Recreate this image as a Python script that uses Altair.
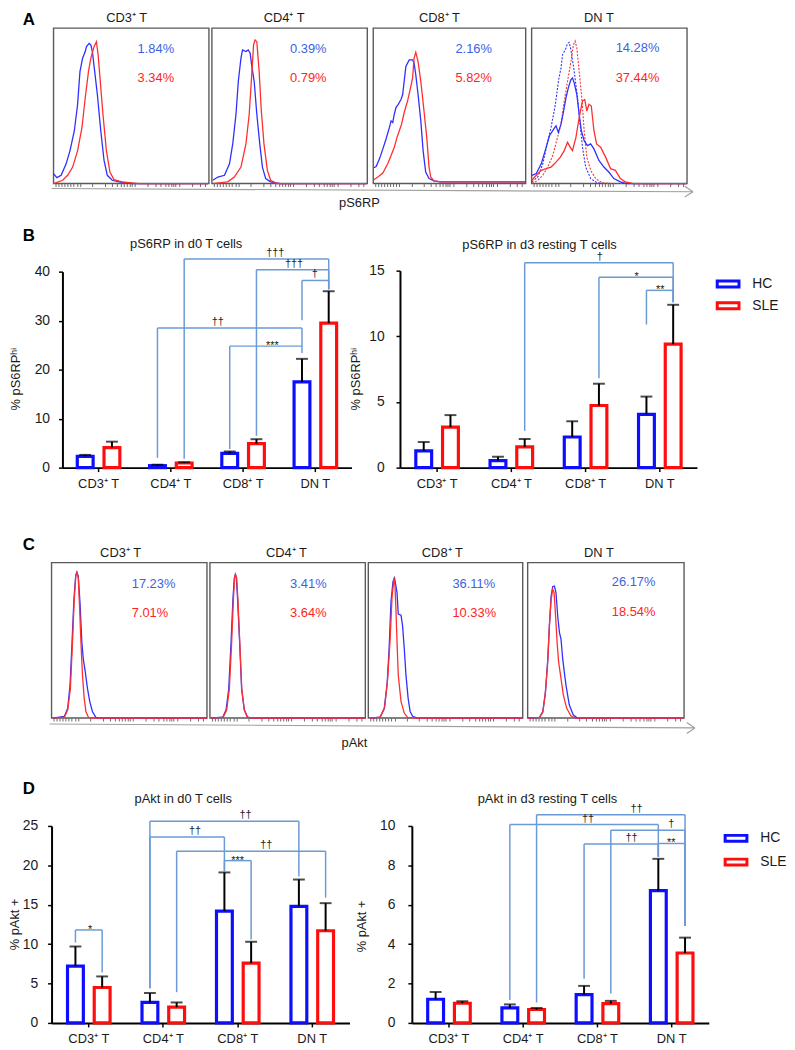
import altair as alt
import pandas as pd

W, H = 787, 1042
FONT = "Liberation Sans, Arial, Helvetica, sans-serif"
TXT = "#1a1a1a"
BAR_BLUE, BAR_RED = "#0d0dff", "#ff0d0d"
LINE_BLUE, LINE_RED = "#2f2fff", "#ff2f2f"
PCT_BLUE, PCT_RED = "#3b62e6", "#ff2424"
BRK = "#6c9ad4"
FRAME = "#5a5a5a"

categories = ["CD3⁺ T", "CD4⁺ T", "CD8⁺ T", "DN T"]
groups = ["HC", "SLE"]

# ---------------- Panel A : pS6RP histograms (x: % of axis, y: % of max) ----------------
a_cd3_hc_x = [0, 2.1, 4.9, 8.1, 10.6, 13.4, 15.5, 17, 18.7, 20.4, 21.2, 22.9, 24, 25, 26.5, 28.2, 30.4, 32.5, 34.6, 37.8, 42, 50.5, 99.4]
a_cd3_hc_y = [6.4, 3.8, 5.3, 12.7, 21.2, 34, 51, 72, 80.7, 84.9, 88.1, 90.2, 89.2, 84.9, 72, 57.3, 34, 14.9, 5.3, 2.1, 1.1, 0, 0]
a_cd3_sle_x = [0, 5.9, 9.1, 12.3, 15.5, 18.3, 20.4, 22.5, 24, 26.1, 27.6, 28.7, 29.9, 31.8, 34, 36.3, 38.9, 44.1, 54.8, 99.4]
a_cd3_sle_y = [0, 2.1, 5.3, 10.6, 21.2, 36.1, 55.2, 72.2, 80.7, 88.1, 91.3, 82.8, 68, 44.6, 21.2, 7.4, 2.5, 1.1, 0, 0]

a_cd4_hc_x = [0.6, 3.8, 8.1, 11.3, 13.4, 15.5, 17, 18.7, 19.7, 21.9, 23.4, 24.6, 25.7, 27.2, 28.9, 30.8, 32.5, 34.6, 37.8, 44.1, 99.4]
a_cd4_hc_y = [2.1, 4.2, 5.3, 12.7, 25.5, 44.6, 65.8, 80.7, 86, 84.9, 86, 83.9, 75.4, 65.8, 44.6, 25.5, 10.6, 3.2, 1.1, 0, 0]
a_cd4_sle_x = [0.6, 10.2, 14.4, 18.7, 21.9, 24, 25.5, 26.8, 27.8, 28.9, 30.4, 31.8, 33.5, 35.7, 37.8, 42, 99.4]
a_cd4_sle_y = [0, 1.1, 4.2, 10.6, 25.5, 44.6, 68, 89.2, 92.4, 91.3, 72.2, 46.7, 25.5, 8.5, 2.1, 0, 0]

a_cd8_hc_x = [0.4, 1.9, 4.1, 6.3, 8.4, 10.6, 11.7, 12.8, 13.8, 14.9, 16.4, 18.2, 19.3, 20.3, 21.4, 23.6, 25.8, 26.8, 27.9, 29.4, 31.2, 32.7, 34.4, 36.6, 39.8, 44.2, 99.8]
a_cd8_hc_y = [10.2, 11, 15.9, 22.3, 28.7, 36.1, 40.3, 39.3, 44.6, 48.9, 51, 54.1, 57.3, 65.8, 75.4, 79.6, 79.6, 77.5, 70, 57.3, 40.3, 21.2, 7.4, 3.2, 1.7, 1.1, 1.1]
a_cd8_sle_x = [0.4, 3.0, 6.3, 9.5, 11.7, 13.8, 15.6, 17.1, 18.6, 20.3, 22.5, 24.2, 25.8, 26.8, 27.9, 29.4, 31.2, 33.3, 35.1, 36.6, 37.7, 39.8, 44.2, 99.8]
a_cd8_sle_y = [2.5, 4.2, 6.8, 12.7, 18, 23.4, 29.7, 34, 38.2, 45.7, 53.1, 60.5, 68, 80.7, 84.5, 78.5, 65.8, 46.7, 29.7, 10.6, 4.2, 1.7, 1.1, 1.1]

a_dn_hc_x = [0.2, 3.0, 6.2, 9.4, 11.5, 14.2, 15.7, 17.2, 18.9, 20.6, 22.1, 23.6, 25.3, 26.3, 27.4, 29.1, 30.6, 32, 33.8, 35.9, 38, 40.1, 43.3, 46.5, 49.7, 52.9, 57.1, 61.3, 99.6]
a_dn_hc_y = [5.3, 6.4, 12.7, 23.4, 30.8, 35, 37.1, 32.9, 38.2, 46.7, 55.2, 61.6, 66.9, 68, 64.8, 57.3, 44.6, 34, 27.6, 24.4, 25.5, 22.3, 14.9, 10.6, 7.4, 3.2, 1.1, 0, 0]
a_dn_sle_x = [0.2, 3.0, 6.2, 9.4, 12.5, 15.7, 18.5, 21, 23.1, 24.8, 26.3, 28.5, 30.6, 32.7, 34.2, 35.5, 36.9, 38.4, 40.1, 41.8, 44.4, 47.6, 50.8, 53.9, 57.1, 60.3, 65.6, 99.6]
a_dn_sle_y = [2.1, 5.3, 8.5, 9.6, 10.6, 13.8, 17, 21.2, 26.5, 23.4, 21.2, 29.7, 42.5, 53.1, 54.1, 46.7, 51, 49.9, 34, 25.5, 23.4, 17, 9.6, 8.5, 3.2, 1.1, 0, 0]
a_dn_hc_dot_x = [0.2, 4.0, 7.2, 10, 12.5, 15.3, 17.4, 18.9, 19.9, 22.1, 23.1, 24.2, 25.3, 27.4, 29.5, 31.2, 32.7, 34.8, 38, 42.2, 48.6, 99.6]
a_dn_hc_dot_y = [1.1, 4.2, 12.7, 25.5, 36.1, 51, 66.9, 74.3, 82.8, 87.1, 90.2, 90.9, 86, 72.2, 55.2, 38.2, 23.4, 10.6, 3.2, 0.4, 0, 0]
a_dn_sle_dot_x = [0.2, 4.0, 7.2, 10.4, 13.6, 16.4, 18.9, 21, 23.1, 25.3, 26.9, 28, 29.1, 30.6, 32.3, 33.8, 35.5, 38, 41.2, 45.4, 52.9, 99.6]
a_dn_sle_dot_y = [0, 2.1, 5.3, 10.6, 18, 28.7, 38.2, 53.1, 65.8, 78.5, 89.2, 91.7, 87.1, 72.2, 55.2, 34, 17, 8.5, 3.2, 0.4, 0, 0]

a_pct_hc = ["1.84%", "0.39%", "2.16%", "14.28%"]
a_pct_sle = ["3.34%", "0.79%", "5.82%", "37.44%"]

# ---------------- Panel C : pAkt histograms ----------------
c_cd3_hc_x = [0.8, 8.3, 10.4, 11.9, 13.2, 14.4, 15.5, 16.3, 17.2, 18.3, 19.5, 20.4, 21.7, 23.1, 24.6, 26.3, 28.5, 30.6, 100]
c_cd3_hc_y = [0, 1.1, 6.4, 21.2, 48.9, 76.4, 91.3, 93.8, 91.3, 74.3, 48.9, 38.2, 29.7, 19.1, 10.6, 4.2, 0.4, 0, 0]
c_cd3_sle_x = [0.8, 8.3, 10.4, 12.1, 13.4, 14.6, 15.7, 16.3, 17.2, 18, 18.9, 19.9, 21, 22.1, 23.8, 26.3, 100]
c_cd3_sle_y = [0, 0.6, 5.3, 18.7, 46.7, 76.4, 92.4, 93.8, 90.2, 72.2, 48.9, 27.6, 12.7, 4.2, 0.4, 0, 0]

c_cd4_hc_x = [0.8, 8.3, 10.4, 12.1, 13.6, 14.8, 15.7, 16.3, 17, 17.8, 19.1, 20.4, 22.1, 24.2, 27.4, 100]
c_cd4_hc_y = [0, 0.6, 5.3, 18.7, 48.9, 76.4, 90.2, 92.4, 90.2, 76.4, 48.9, 18.7, 5.3, 0.6, 0, 0]
c_cd4_sle_x = [1.1, 8.6, 10.8, 12.5, 14.0, 15.1, 15.9, 16.5, 17.2, 18.0, 19.2, 20.5, 22.1, 24.0, 27.4, 100]
c_cd4_sle_y = [0, 0.6, 5.3, 18.7, 48.9, 76.4, 90.2, 92.4, 90.2, 76.4, 48.9, 18.7, 5.3, 0.6, 0, 0]

c_cd8_hc_x = [1.3, 7.7, 10.3, 12.2, 13.5, 14.7, 16, 17, 18.6, 19.4, 21.2, 22.2, 23.3, 24.4, 25.8, 27.1, 28.7, 31.9, 100]
c_cd8_hc_y = [0, 0.6, 6, 22, 45, 75, 88, 90.2, 80.7, 66.9, 66.2, 59.4, 44.6, 27.6, 12.7, 4.2, 1.1, 0, 0]
c_cd8_sle_x = [1.3, 7.7, 10.6, 12.5, 14.1, 15.4, 16.7, 17.3, 17.9, 18.6, 19.4, 21.2, 23.3, 25.4, 30.8, 100]
c_cd8_sle_y = [0, 0.6, 7, 25, 50, 78, 90.2, 84.9, 70, 48.9, 27.6, 10.6, 3.2, 0.4, 0, 0]

c_dn_hc_x = [0.2, 7.6, 9.7, 11.4, 12.9, 13.9, 15, 16, 17.1, 18.1, 19.2, 20.3, 21.3, 22.4, 23.4, 24.5, 26.6, 29.1, 31.8, 99.4]
c_dn_hc_y = [0, 0.4, 4.2, 17, 38.2, 59.4, 78.5, 84.5, 84.9, 80.7, 65.8, 55.2, 51, 38.2, 29.7, 21.2, 8.5, 2.1, 0, 0]
c_dn_sle_x = [0.2, 7.6, 9.7, 11.2, 12.7, 13.9, 15, 16, 16.9, 17.7, 18.8, 19.8, 21.3, 22.8, 24.9, 27.7, 30.8, 99.4]
c_dn_sle_y = [0, 0.4, 3.8, 14.9, 34, 59.4, 76.4, 82.8, 80.7, 68, 48.9, 36.1, 25.5, 14.9, 6.4, 1.3, 0, 0]

c_pct_hc = ["17.23%", "3.41%", "36.11%", "26.17%"]
c_pct_sle = ["7.01%", "3.64%", "10.33%", "18.54%"]

# flow-cytometry style bottom tick positions (% of axis)
hist_ticks = [1, 3, 5, 7, 9, 11, 13, 15, 17, 25, 33, 37.5, 41, 43.5, 45.5, 47.3, 48.8, 50.1,
              52.5, 60.8, 65.6, 69, 71.7, 73.9, 75.7, 77.3, 78.6, 81, 89.3, 94.2, 97.6]

# ---------------- Panel B : % pS6RP hi ----------------
b0_hc = [2.3, 0.4, 2.9, 17.5]
b0_hc_sem = [0.3, 0.2, 0.4, 4.7]
b0_sle = [4.1, 0.95, 4.9, 29.5]
b0_sle_sem = [1.2, 0.15, 0.9, 6.5]
b3_hc = [1.28, 0.53, 2.33, 4.06]
b3_hc_sem = [0.67, 0.30, 1.20, 1.35]
b3_sle = [3.08, 1.58, 4.73, 9.40]
b3_sle_sem = [0.92, 0.60, 1.66, 3.0]

# ---------------- Panel D : % pAkt + ----------------
d0_hc = [7.2, 2.6, 14.2, 14.8]
d0_hc_sem = [2.5, 1.2, 4.9, 3.4]
d0_sle = [4.5, 2.0, 7.6, 11.7]
d0_sle_sem = [1.4, 0.6, 2.7, 3.5]
d3_hc = [1.2, 0.76, 1.44, 6.72]
d3_hc_sem = [0.37, 0.18, 0.44, 1.61]
d3_sle = [1.0, 0.68, 0.98, 3.55]
d3_sle_sem = [0.10, 0.08, 0.14, 0.78]

# significance brackets: (cat1, grp1, cat2, grp2, line height, drop1 end, drop2 end, label, label x in category units)
b0_brackets = [
    ("CD4⁺ T", "SLE", "DN T", "SLE", 42.6, 1.8, 36.4, "†††", 2.945),
    ("CD8⁺ T", "SLE", "DN T", "SLE", 40.4, 6.5, 36.4, "†††", 3.205),
    ("DN T", "HC", "DN T", "SLE", 38.2, 30.1, 36.4, "†", 3.493),
    ("CD4⁺ T", "HC", "DN T", "HC", 28.5, 2.0, 24.8, "††", 2.151),
    ("CD8⁺ T", "HC", "DN T", "HC", 24.8, 3.8, 23.4, "***", 2.904),
]
b3_brackets = [
    ("CD4⁺ T", "SLE", "DN T", "SLE", 15.6, 2.8, 12.6, "†", 2.693),
    ("CD8⁺ T", "SLE", "DN T", "SLE", 14.5, 6.8, 12.6, "*", 3.187),
    ("DN T", "HC", "DN T", "SLE", 13.5, 10.9, 12.6, "**", 3.507),
]
d0_brackets = [
    ("CD3⁺ T", "HC", "CD3⁺ T", "SLE", 11.8, 10.2, 6.4, "*", 0.518),
    ("CD4⁺ T", "HC", "DN T", "HC", 25.6, 4.4, 18.6, "††", 2.605),
    ("CD4⁺ T", "HC", "CD8⁺ T", "HC", 23.6, 4.4, 19.2, "††", 1.927),
    ("CD4⁺ T", "SLE", "DN T", "SLE", 21.8, 3.9, 15.9, "††", 2.884),
    ("CD8⁺ T", "HC", "CD8⁺ T", "SLE", 20.6, 19.2, 10.6, "***", 2.498),
]
d3_brackets = [
    ("CD4⁺ T", "SLE", "DN T", "SLE", 10.57, 1.04, 4.92, "††", 3.027),
    ("CD4⁺ T", "HC", "DN T", "HC", 10.07, 1.16, 8.44, "††", 2.373),
    ("CD8⁺ T", "SLE", "DN T", "SLE", 9.78, 1.49, 4.92, "†", 3.493),
    ("CD8⁺ T", "HC", "DN T", "HC", 9.08, 2.24, 8.44, "††", 2.96),
    ("DN T", "HC", "DN T", "SLE", 9.11, 8.44, 4.92, "**", 3.493),
]

ONE = pd.DataFrame({"k": [0]})


def lin(domain, rng):
    return alt.Scale(domain=domain, range=rng, nice=False, zero=False)


def label(s, x, y, size=13, bold=False, align="center", color=TXT):
    return alt.Chart(ONE).mark_text(text=s, font=FONT, fontSize=size,
                                    fontWeight="bold" if bold else "normal",
                                    align=align, baseline="middle", color=color).encode(
        x=alt.value(x), y=alt.value(y))


def seg(x1, y1, x2, y2, color="#a0a0a0", width=1.2):
    return alt.Chart(ONE).mark_rule(color=color, strokeWidth=width).encode(
        x=alt.value(x1), y=alt.value(y1), x2=alt.value(x2), y2=alt.value(y2))


def hist_panel(curves, pct_hc, pct_sle, text_x, text_y, title, title_x, xr, yr):
    xs = lin([0, 100], xr)
    ys = lin([0, 100], yr)
    units = []
    fr = pd.DataFrame({"x0": [0], "x1": [100], "y0": [0], "y1": [100]})
    units.append(alt.Chart(fr).mark_rect(fillOpacity=0, stroke=FRAME, strokeWidth=1.4).encode(
        x=alt.X("x0:Q", scale=xs, axis=alt.Axis(orient="bottom", offset=yr[0] - H, values=hist_ticks,
                                                labels=False, domain=False, grid=False, ticks=True,
                                                tickSize=3, tickColor="#444", tickWidth=0.8, title=None)),
        x2="x1:Q",
        y=alt.Y("y0:Q", scale=ys, axis=None),
        y2="y1:Q"))
    for cx, cy, color, dashed in curves:
        kw = dict(color=color, strokeWidth=1.3 if not dashed else 1.1, interpolate="linear")
        if dashed:
            kw["strokeDash"] = [2, 1.5]
        units.append(alt.Chart(pd.DataFrame({"x": cx, "y": cy})).mark_line(**kw).encode(
            x=alt.X("x:Q", scale=xs, axis=None), y=alt.Y("y:Q", scale=ys, axis=None)))
    tdf = pd.DataFrame({"x": [text_x, text_x], "y": text_y, "t": [pct_hc, pct_sle],
                        "c": [PCT_BLUE, PCT_RED]})
    units.append(alt.Chart(tdf).mark_text(align="left", baseline="middle", font=FONT, fontSize=13).encode(
        x=alt.X("x:Q", scale=xs, axis=None), y=alt.Y("y:Q", scale=ys, axis=None),
        text="t:N", color=alt.Color("c:N", scale=None, legend=None)))
    ttl = pd.DataFrame({"x": [title_x], "y": [106.4], "t": [title]})
    units.append(alt.Chart(ttl).mark_text(align="center", baseline="middle", font=FONT, fontSize=13, color=TXT).encode(
        x=alt.X("x:Q", scale=xs, axis=None), y=alt.Y("y:Q", scale=ys, axis=None), text="t:N"))
    return units


def bar_panel(hc, hc_sem, sle, sle_sem, ymax, yvals, xr, yr, ytitle, ytx, yty, lab_pad,
              title, tx, ty, brackets, legend=None):
    n = len(categories)
    df = pd.DataFrame({"cat": categories + categories, "grp": ["HC"] * n + ["SLE"] * n,
                       "val": hc + sle, "sem": hc_sem + sle_sem})
    df["top"] = df["val"] + df["sem"]
    step = (xr[1] - xr[0]) / n
    d = 27.0
    pi = 1 - 16.0 / d
    po = (step / d - 2 + pi) / 2
    xs = alt.Scale(domain=categories, range=xr, paddingInner=0, paddingOuter=0)
    xo = alt.XOffset("grp:N", scale=alt.Scale(domain=groups, paddingInner=pi, paddingOuter=po))
    ys = lin([0, ymax], yr)
    xaxis = alt.Axis(orient="bottom", offset=yr[0] - H, title=None, labelAngle=0, domainColor="black",
                     domainWidth=2, tickColor="black", tickWidth=1.5, tickSize=4, labelFont=FONT,
                     labelFontSize=13, labelColor=TXT, labelPadding=6)
    yaxis = alt.Axis(orient="left", offset=-xr[0], values=yvals, grid=False, domainColor="black",
                     domainWidth=2, tickColor="black", tickWidth=1.5, tickSize=4, labelFont=FONT,
                     labelFontSize=14, labelColor=TXT, labelPadding=lab_pad, title=ytitle,
                     titleFont=FONT, titleFontSize=13, titleFontWeight="normal", titleColor=TXT,
                     titleX=ytx, titleY=yty, titleAngle=270, titleAlign="center", titleBaseline="middle")
    units = []
    units.append(alt.Chart(df).mark_bar(fill="white", strokeWidth=3.2).encode(
        x=alt.X("cat:N", scale=xs, axis=xaxis), xOffset=xo,
        y=alt.Y("val:Q", scale=ys, axis=yaxis),
        stroke=alt.Stroke("grp:N", scale=alt.Scale(domain=groups, range=[BAR_BLUE, BAR_RED]), legend=legend)))
    units.append(alt.Chart(df).mark_rule(color="black", strokeWidth=2).encode(
        x=alt.X("cat:N", scale=xs, axis=None), xOffset=xo,
        y=alt.Y("val:Q", scale=ys, axis=None), y2=alt.Y2("top")))
    units.append(alt.Chart(df).mark_tick(color="black", thickness=2, size=12).encode(
        x=alt.X("cat:N", scale=xs, axis=None), xOffset=xo,
        y=alt.Y("top:Q", scale=ys, axis=None)))
    off = 13.5 / step
    segs, labs = [], []
    for c1, g1, c2, g2, yl, yd1, yd2, lab, lx in brackets:
        x1 = categories.index(c1) + 0.5 + (off if g1 == "SLE" else -off)
        x2 = categories.index(c2) + 0.5 + (off if g2 == "SLE" else -off)
        segs += [dict(x=x1, x2=x2, y=yl, y2=yl), dict(x=x1, x2=x1, y=yd1, y2=yl),
                 dict(x=x2, x2=x2, y=yd2, y2=yl)]
        labs.append(dict(x=lx, y=yl, t=lab, star="*" in lab))
    bx = lin([0, n], xr)
    units.append(alt.Chart(pd.DataFrame(segs)).mark_rule(color=BRK, strokeWidth=1.5).encode(
        x=alt.X("x:Q", scale=bx, axis=None), x2="x2:Q",
        y=alt.Y("y:Q", scale=ys, axis=None), y2="y2:Q"))
    ldf = pd.DataFrame(labs)
    for star, dy in ((False, -3), (True, 3)):
        sub = ldf[ldf["star"] == star]
        if len(sub):
            units.append(alt.Chart(sub[["x", "y", "t"]]).mark_text(
                font=FONT, fontSize=11, fill="#222222", baseline="alphabetic", dy=dy).encode(
                x=alt.X("x:Q", scale=bx, axis=None), y=alt.Y("y:Q", scale=ys, axis=None), text="t:N"))
    units.append(label(title, tx, ty))
    return units


def make_legend(lx, ly, rowpad):
    return alt.Legend(orient="none", legendX=lx, legendY=ly, title=None, padding=0,
                      symbolType="M-1,-0.27H1V0.27H-1Z", symbolSize=484, symbolStrokeWidth=3,
                      symbolFillColor="white", labelFont=FONT, labelFontSize=14, labelColor=TXT,
                      labelOffset=12, rowPadding=rowpad)


units = []

# ---- A ----
ya = [172, 15]
units += hist_panel([(a_cd3_hc_x, a_cd3_hc_y, LINE_BLUE, False), (a_cd3_sle_x, a_cd3_sle_y, LINE_RED, False)],
                    a_pct_hc[0], a_pct_sle[0], 54.1, [86.6, 68.2], categories[0], 47.1, [46, 203], ya)
units += hist_panel([(a_cd4_hc_x, a_cd4_hc_y, LINE_BLUE, False), (a_cd4_sle_x, a_cd4_sle_y, LINE_RED, False)],
                    a_pct_hc[1], a_pct_sle[1], 50.3, [86.6, 68.2], categories[1], 46.5, [206, 363], ya)
units += hist_panel([(a_cd8_hc_x, a_cd8_hc_y, LINE_BLUE, False), (a_cd8_sle_x, a_cd8_sle_y, LINE_RED, False)],
                    a_pct_hc[2], a_pct_sle[2], 53.9, [86.6, 68.2], categories[2], 43.4, [369, 523], ya)
units += hist_panel([(a_dn_hc_dot_x, a_dn_hc_dot_y, LINE_BLUE, True), (a_dn_sle_dot_x, a_dn_sle_dot_y, LINE_RED, True),
                     (a_dn_hc_x, a_dn_hc_y, LINE_BLUE, False), (a_dn_sle_x, a_dn_sle_y, LINE_RED, False)],
                    a_pct_hc[3], a_pct_sle[3], 54.1, [87.3, 68.2], categories[3], 43.3, [529, 686], ya)
units += [seg(44, 177, 692, 180.3), seg(683.7, 174.7, 692, 180.3), seg(692, 180.3, 683.7, 185.6),
          label("pS6RP", 355, 192)]

# ---- C ----
yc = [712, 555]
units += hist_panel([(c_cd3_hc_x, c_cd3_hc_y, LINE_BLUE, False), (c_cd3_sle_x, c_cd3_sle_y, LINE_RED, False)],
                    c_pct_hc[0], c_pct_sle[0], 51.6, [86.0, 67.5], categories[0], 44.4, [44, 201], yc)
units += hist_panel([(c_cd4_hc_x, c_cd4_hc_y, LINE_BLUE, False), (c_cd4_sle_x, c_cd4_sle_y, LINE_RED, False)],
                    c_pct_hc[1], c_pct_sle[1], 51.6, [86.0, 67.5], categories[1], 49.2, [204, 361], yc)
units += hist_panel([(c_cd8_hc_x, c_cd8_hc_y, LINE_BLUE, False), (c_cd8_sle_x, c_cd8_sle_y, LINE_RED, False)],
                    c_pct_hc[2], c_pct_sle[2], 54.5, [86.0, 67.5], categories[2], 47.9, [364, 520], yc)
units += hist_panel([(c_dn_hc_x, c_dn_hc_y, LINE_BLUE, False), (c_dn_sle_x, c_dn_sle_y, LINE_RED, False)],
                    c_pct_hc[3], c_pct_sle[3], 53.8, [87.3, 68.2], categories[3], 45.6, [525, 683], yc)
units += [seg(42, 718, 694, 722), seg(685.7, 716.4, 694, 722), seg(694, 722, 685.7, 727.6),
          label("pAkt", 350, 737)]

# ---- B ----
units += bar_panel(b0_hc, b0_hc_sem, b0_sle, b0_sle_sem, 40, [0, 10, 20, 30, 40], [55, 347], [459, 261],
                   "% pS6RPʰⁱ", -47, 369, 9, "pS6RP in d0 T cells", 180, 233, b0_brackets)
units += bar_panel(b3_hc, b3_hc_sem, b3_sle, b3_sle_sem, 15, [0, 5, 10, 15], [396, 696], [459, 260],
                   "% pS6RPʰⁱ", -45, 369, 12, "pS6RP in d3 resting T cells", 537, 234, b3_brackets,
                   legend=make_legend(715, 261, 0))

# ---- D ----
units += bar_panel(d0_hc, d0_hc_sem, d0_sle, d0_sle_sem, 25, [0, 5, 10, 15, 20, 25], [44, 345], [1020, 821],
                   "% pAkt +", -37, 920, 10, "pAkt in d0 T cells", 177, 794, d0_brackets)
units += bar_panel(d3_hc, d3_hc_sem, d3_sle, d3_sle_sem, 10, [0, 2, 4, 6, 8, 10], [408, 708], [1020, 821],
                   "% pAkt +", -51, 922, 13, "pAkt in d3 resting T cells", 545, 794, d3_brackets,
                   legend=make_legend(723, 821, 2))

# ---- section letters ----
units += [label("A", 21, 7, size=17, bold=True, color="black"),
          label("B", 21, 225, size=17, bold=True, color="black"),
          label("C", 21, 537, size=17, bold=True, color="black"),
          label("D", 21, 784, size=17, bold=True, color="black")]

chart = alt.layer(*units).resolve_scale(
    x="independent", y="independent", xOffset="independent", stroke="independent"
).resolve_axis(x="independent", y="independent").resolve_legend(stroke="independent").properties(
    width=W, height=H, padding=0, autosize=alt.AutoSizeParams(type="none")
).configure_view(strokeWidth=0)

chart.save("out.html", embed_options={"renderer": "svg", "actions": False})
